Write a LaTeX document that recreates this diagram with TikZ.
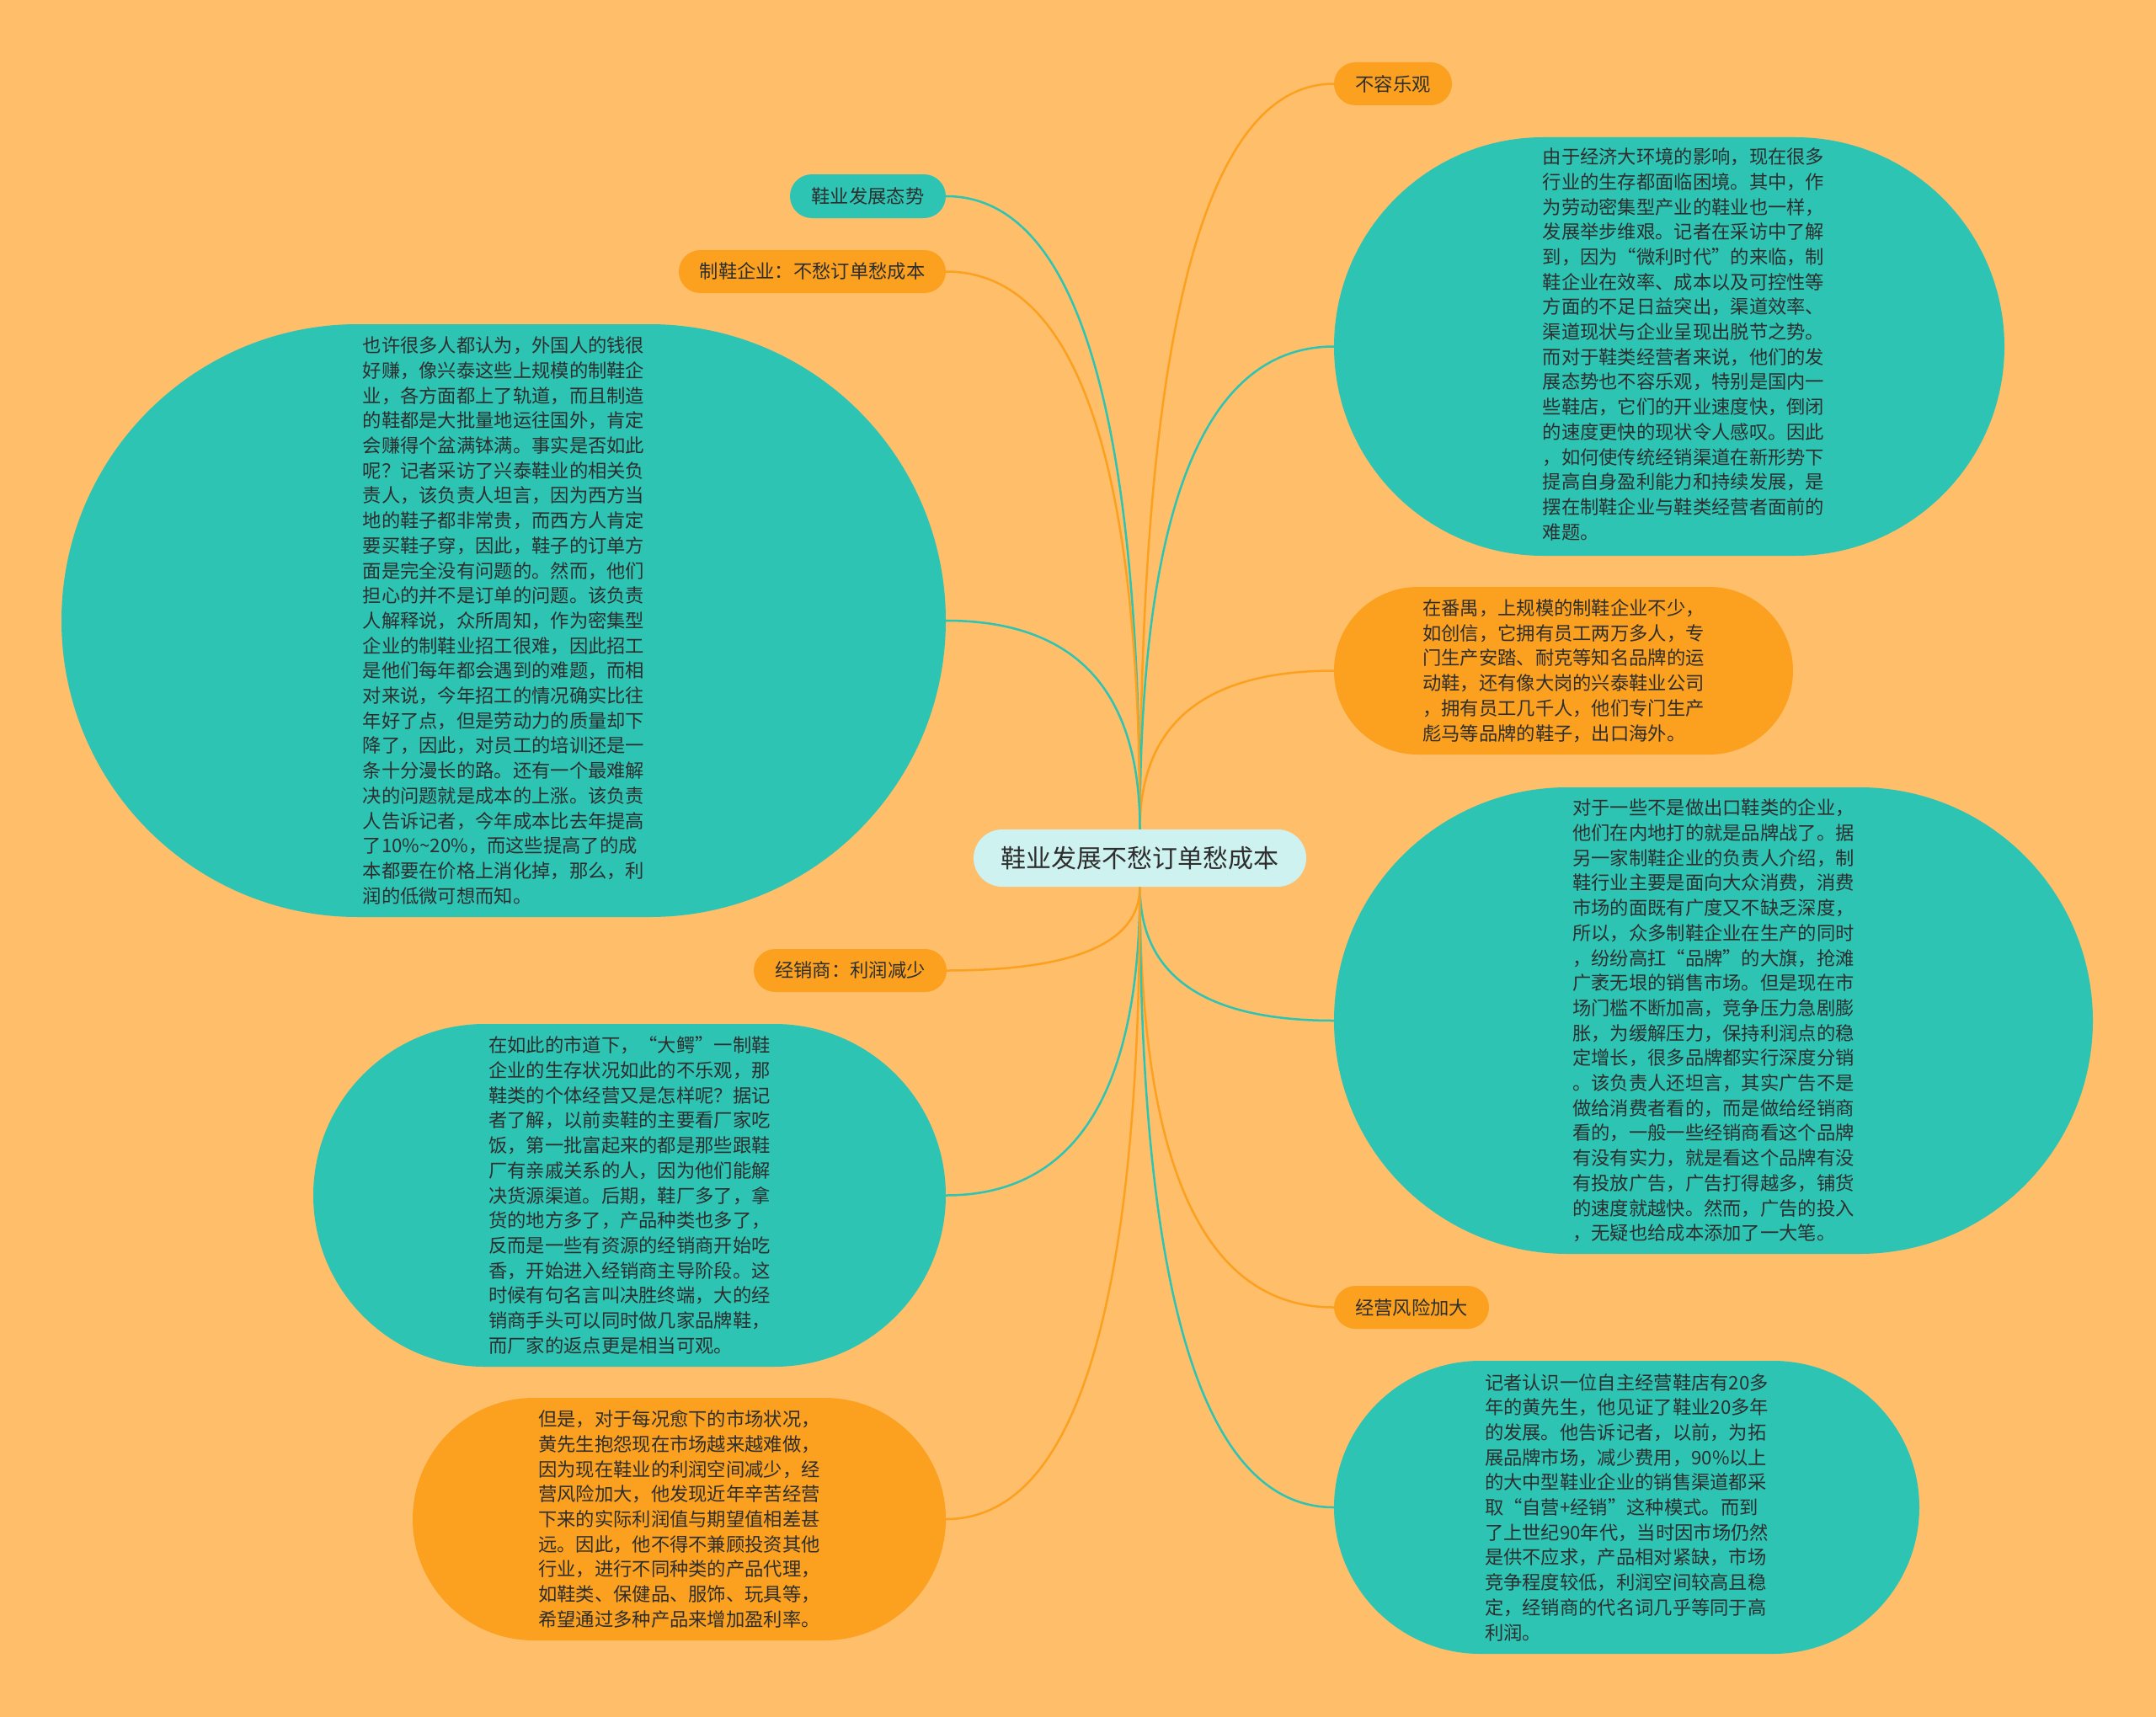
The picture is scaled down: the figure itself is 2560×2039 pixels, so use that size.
\documentclass[tikz,border=0pt]{standalone}
\usepackage{fontspec}
\setmainfont{Noto Sans CJK SC}
\usetikzlibrary{calc}
\definecolor{bgc}{HTML}{FFBE69}
\definecolor{tealc}{HTML}{2EC4B4}
\definecolor{orgc}{HTML}{FBA11F}
\definecolor{cenc}{HTML}{CDF2EF}
\definecolor{txtc}{HTML}{2E2E2E}
\pgfdeclarelayer{bg}
\pgfsetlayers{bg,main}
\newcommand\bodyfont{\fontsize{22.3}{29.7}\selectfont}
\newcommand\cenfont{\fontsize{30}{36}\selectfont}
\newcommand\linkto[3]{\draw[conn,#3] (#1) .. controls ($(#1)!0.667!(#1 |- #2)$) and ($(#2)!0.667!(#1 |- #2)$) .. (#2);}
\tikzset{
  box/.style={inner sep=0pt, align=left, text=txtc, font=\bodyfont},
  conn/.style={line width=2.5pt}
}
\begin{document}
\begin{tikzpicture}[x=1pt,y=-1pt]
\begin{pgfonlayer}{bg}
\fill[bgc] (0,0) rectangle (2560,2039);
\end{pgfonlayer}
\path[use as bounding box] (0,0) rectangle (2560,2039);

% center
\node[box, font=\cenfont, text=txtc, fill=cenc, minimum width=395pt, minimum height=68pt, rounded corners=34pt] (c) at (1353.5,1019) {鞋业发展不愁订单愁成本};

% right side
\node[box, fill=orgc, minimum width=140pt, minimum height=51pt, rounded corners=25.5pt] (r1) at (1654,99.5) {不容乐观};
\node[box, fill=tealc, minimum width=796pt, minimum height=497pt, rounded corners=248.5pt] (r2) at (1982,411.5) {\hspace*{34pt}\begin{tabular}{@{}l@{}}%
由于经济大环境的影响，现在很多\\行业的生存都面临困境。其中，作\\为劳动密集型产业的鞋业也一样，\\发展举步维艰。记者在采访中了解\\到，因为“微利时代”的来临，制\\鞋企业在效率、成本以及可控性等\\方面的不足日益突出，渠道效率、\\渠道现状与企业呈现出脱节之势。\\而对于鞋类经营者来说，他们的发\\展态势也不容乐观，特别是国内一\\些鞋店，它们的开业速度快，倒闭\\的速度更快的现状令人感叹。因此\\，如何使传统经销渠道在新形势下\\提高自身盈利能力和持续发展，是\\摆在制鞋企业与鞋类经营者面前的\\难题。\end{tabular}};
\node[box, fill=orgc, minimum width=545pt, minimum height=199pt, rounded corners=99.5pt] (r3) at (1856.5,796.5) {%
在番禺，上规模的制鞋企业不少，\\如创信，它拥有员工两万多人，专\\门生产安踏、耐克等知名品牌的运\\动鞋，还有像大岗的兴泰鞋业公司\\，拥有员工几千人，他们专门生产\\彪马等品牌的鞋子，出口海外。};
\node[box, fill=tealc, minimum width=901pt, minimum height=554pt, rounded corners=277pt] (r4) at (2034.5,1212) {%
对于一些不是做出口鞋类的企业，\\他们在内地打的就是品牌战了。据\\另一家制鞋企业的负责人介绍，制\\鞋行业主要是面向大众消费，消费\\市场的面既有广度又不缺乏深度，\\所以，众多制鞋企业在生产的同时\\，纷纷高扛“品牌”的大旗，抢滩\\广袤无垠的销售市场。但是现在市\\场门槛不断加高，竞争压力急剧膨\\胀，为缓解压力，保持利润点的稳\\定增长，很多品牌都实行深度分销\\。该负责人还坦言，其实广告不是\\做给消费者看的，而是做给经销商\\看的，一般一些经销商看这个品牌\\有没有实力，就是看这个品牌有没\\有投放广告，广告打得越多，铺货\\的速度就越快。然而，广告的投入\\，无疑也给成本添加了一大笔。};
\node[box, fill=orgc, minimum width=184pt, minimum height=51pt, rounded corners=25.5pt] (r5) at (1676,1552.5) {经营风险加大};
\node[box, fill=tealc, minimum width=695pt, minimum height=348pt, rounded corners=174pt] (r6) at (1931.5,1790) {%
记者认识一位自主经营鞋店有20多\\年的黄先生，他见证了鞋业20多年\\的发展。他告诉记者，以前，为拓\\展品牌市场，减少费用，90\%以上\\的大中型鞋业企业的销售渠道都采\\取“自营+经销”这种模式。而到\\了上世纪90年代，当时因市场仍然\\是供不应求，产品相对紧缺，市场\\竞争程度较低，利润空间较高且稳\\定，经销商的代名词几乎等同于高\\利润。};

% left side
\node[box, fill=tealc, minimum width=185pt, minimum height=52pt, rounded corners=26pt] (l1) at (1030.5,233) {鞋业发展态势};
\node[box, fill=orgc, minimum width=317pt, minimum height=51pt, rounded corners=25.5pt] (l2) at (964.5,322.5) {制鞋企业：不愁订单愁成本};
\node[box, fill=tealc, minimum width=1050pt, minimum height=704pt, rounded corners=352pt] (l3) at (598,737) {%
也许很多人都认为，外国人的钱很\\好赚，像兴泰这些上规模的制鞋企\\业，各方面都上了轨道，而且制造\\的鞋都是大批量地运往国外，肯定\\会赚得个盆满钵满。事实是否如此\\呢？记者采访了兴泰鞋业的相关负\\责人，该负责人坦言，因为西方当\\地的鞋子都非常贵，而西方人肯定\\要买鞋子穿，因此，鞋子的订单方\\面是完全没有问题的。然而，他们\\担心的并不是订单的问题。该负责\\人解释说，众所周知，作为密集型\\企业的制鞋业招工很难，因此招工\\是他们每年都会遇到的难题，而相\\对来说，今年招工的情况确实比往\\年好了点，但是劳动力的质量却下\\降了，因此，对员工的培训还是一\\条十分漫长的路。还有一个最难解\\决的问题就是成本的上涨。该负责\\人告诉记者，今年成本比去年提高\\了10\%\textasciitilde 20\%，而这些提高了的成\\本都要在价格上消化掉，那么，利\\润的低微可想而知。};
\node[box, fill=orgc, minimum width=229pt, minimum height=51pt, rounded corners=25.5pt] (l4) at (1009.5,1152.5) {经销商：利润减少};
\node[box, fill=tealc, minimum width=751pt, minimum height=407pt, rounded corners=203.5pt] (l5) at (747.5,1419.5) {%
在如此的市道下，“大鳄”一制鞋\\企业的生存状况如此的不乐观，那\\鞋类的个体经营又是怎样呢？据记\\者了解，以前卖鞋的主要看厂家吃\\饭，第一批富起来的都是那些跟鞋\\厂有亲戚关系的人，因为他们能解\\决货源渠道。后期，鞋厂多了，拿\\货的地方多了，产品种类也多了，\\反而是一些有资源的经销商开始吃\\香，开始进入经销商主导阶段。这\\时候有句名言叫决胜终端，大的经\\销商手头可以同时做几家品牌鞋，\\而厂家的返点更是相当可观。};
\node[box, fill=orgc, minimum width=633pt, minimum height=288pt, rounded corners=144pt] (l6) at (806.5,1804) {%
但是，对于每况愈下的市场状况，\\黄先生抱怨现在市场越来越难做，\\因为现在鞋业的利润空间减少，经\\营风险加大，他发现近年辛苦经营\\下来的实际利润值与期望值相差甚\\远。因此，他不得不兼顾投资其他\\行业，进行不同种类的产品代理，\\如鞋类、保健品、服饰、玩具等，\\希望通过多种产品来增加盈利率。};

% connectors
\begin{pgfonlayer}{bg}
\linkto{c.north}{r1.west}{orgc}
\linkto{c.north}{r2.west}{tealc}
\linkto{c.north}{r3.west}{orgc}
\linkto{c.south}{r4.west}{tealc}
\linkto{c.south}{r5.west}{orgc}
\linkto{c.south}{r6.west}{tealc}
\linkto{c.north}{l1.east}{tealc}
\linkto{c.north}{l2.east}{orgc}
\linkto{c.north}{l3.east}{tealc}
\linkto{c.south}{l4.east}{orgc}
\linkto{c.south}{l5.east}{tealc}
\linkto{c.south}{l6.east}{orgc}
\end{pgfonlayer}
\end{tikzpicture}
\end{document}
